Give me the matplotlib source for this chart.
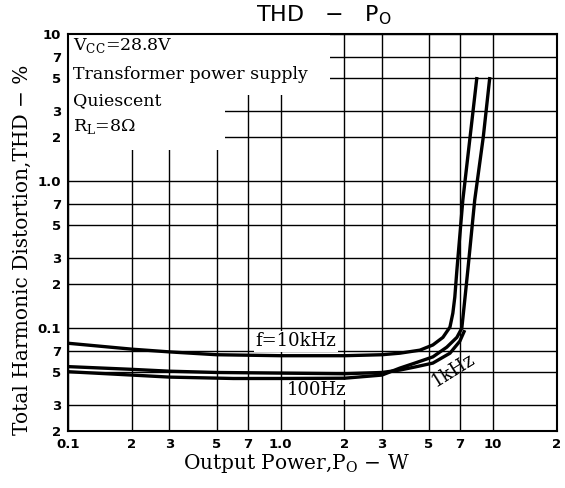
import matplotlib
matplotlib.use("Agg")
import matplotlib.pyplot as plt
from matplotlib.patches import Rectangle
from matplotlib.ticker import FixedLocator, FixedFormatter, NullLocator

# THD (%) vs output power (W)
p_10k = [0.1, 0.2, 0.3, 0.5, 1.0, 2.0, 3.0, 3.64, 4.53, 5.21, 5.81, 6.27, 6.47, 6.61, 6.76, 7.21, 7.8, 8.4]
thd_10k = [0.079, 0.072, 0.069, 0.066, 0.065, 0.065, 0.066, 0.0676, 0.0709, 0.0769, 0.0866, 0.1017, 0.1264, 0.163, 0.248, 0.743, 2.0, 5.1]

p_1k = [0.1, 0.2, 0.3, 0.5, 1.0, 2.0, 3.0, 3.64, 4.3, 5.21, 6.27, 6.98, 7.36]
thd_1k = [0.0548, 0.0525, 0.051, 0.05, 0.0495, 0.049, 0.05, 0.0519, 0.0545, 0.0579, 0.0676, 0.0816, 0.097]

p_100 = [0.1, 0.2, 0.3, 0.6, 1.0, 2.0, 3.0, 3.64, 4.3, 5.21, 6.06, 6.76, 7.13, 7.36, 7.61, 8.2, 9.0, 9.66]
thd_100 = [0.0506, 0.048, 0.0465, 0.0455, 0.0455, 0.0457, 0.048, 0.0535, 0.058, 0.0638, 0.0743, 0.0866, 0.1, 0.155, 0.248, 0.743, 2.0, 5.1]

x_ticks = [0.1, 0.2, 0.3, 0.5, 0.7, 1.0, 2, 3, 5, 7, 10, 20]
x_labels = ["0.1", "2", "3", "5", "7", "1.0", "2", "3", "5", "7", "10", "2"]
y_ticks = [0.02, 0.03, 0.05, 0.07, 0.1, 0.2, 0.3, 0.5, 0.7, 1.0, 2, 3, 5, 7, 10]
y_labels = ["2", "3", "5", "7", "0.1", "2", "3", "5", "7", "1.0", "2", "3", "5", "7", "10"]

conditions = ["V$_{\\mathregular{CC}}$=28.8V", "Transformer power supply", "Quiescent", "R$_{\\mathregular{L}}$=8Ω"]
cond_y = [8.3, 5.3, 3.55, 2.35]

serif = "DejaVu Serif"
W, H = 565, 488
L, R, T, B = 68, 557, 34, 431  # frame in pixels
fig = plt.figure(figsize=(W / 100, H / 100), dpi=100)
ax = fig.add_axes([L / W, 1 - B / H, (R - L) / W, (B - T) / H])
ax.set_xscale("log"); ax.set_yscale("log")
ax.set_xlim(0.1, 20); ax.set_ylim(0.02, 10)

ax.xaxis.set_major_locator(FixedLocator(x_ticks))
ax.xaxis.set_major_formatter(FixedFormatter(x_labels))
ax.xaxis.set_minor_locator(NullLocator())
ax.yaxis.set_major_locator(FixedLocator(y_ticks))
ax.yaxis.set_major_formatter(FixedFormatter(y_labels))
ax.yaxis.set_minor_locator(NullLocator())
ax.tick_params(length=0, labelsize=9.5, pad=5)
for lab in ax.get_xticklabels() + ax.get_yticklabels():
    lab.set_fontweight("bold")
ax.grid(True, color="k", lw=1.0, zorder=1)
ax.set_axisbelow(True)
for s in ax.spines.values():
    s.set_linewidth(1.5)


def px_box(x0, y0, x1, y1):
    # white block behind the condition text, given in figure pixels
    return Rectangle(((x0 - L) / (R - L), (B - y1) / (B - T)), (x1 - x0) / (R - L), (y1 - y0) / (B - T),
                     transform=ax.transAxes, facecolor="white", edgecolor="none", zorder=2)


ax.add_patch(px_box(L + 1, T + 1, 330, 95))
ax.add_patch(px_box(L + 1, 95, 225, 150))

for x, y in [(p_10k, thd_10k), (p_1k, thd_1k), (p_100, thd_100)]:
    ax.plot(x, y, color="k", lw=2.4, solid_capstyle="butt", zorder=4)

for t, yv in zip(conditions, cond_y):
    ax.text(0.106, yv, t, fontsize=12.5, family=serif, va="center", ha="left", zorder=3)

ax.text(1.18, 0.0817, "f=10kHz", family=serif, fontsize=13, ha="center", va="center", zorder=3,
        bbox=dict(facecolor="white", edgecolor="none", pad=1))
ax.text(1.47, 0.038, "100Hz", family=serif, fontsize=13, ha="center", va="center", zorder=3,
        bbox=dict(facecolor="white", edgecolor="none", pad=1))
ax.text(6.5, 0.052, "1kHz", family=serif, fontsize=13, ha="center", va="center", rotation=32, zorder=3)

fig.text(324 / W, 1 - 15 / H, "THD   −   P$_{\\mathregular{O}}$", ha="center", va="center", fontsize=16,
         family="DejaVu Sans")
ax.set_xlabel("Output Power,P$_{\\mathregular{O}}$ − W", family=serif, fontsize=14.5, labelpad=1)
ax.set_ylabel("Total Harmonic Distortion,THD − %", family=serif, fontsize=14.5, labelpad=4)
ax.xaxis.label.set_x((296 - L) / (R - L))
ax.yaxis.label.set_y((B - 250) / (B - T))

fig.savefig("out.png", dpi=100)
